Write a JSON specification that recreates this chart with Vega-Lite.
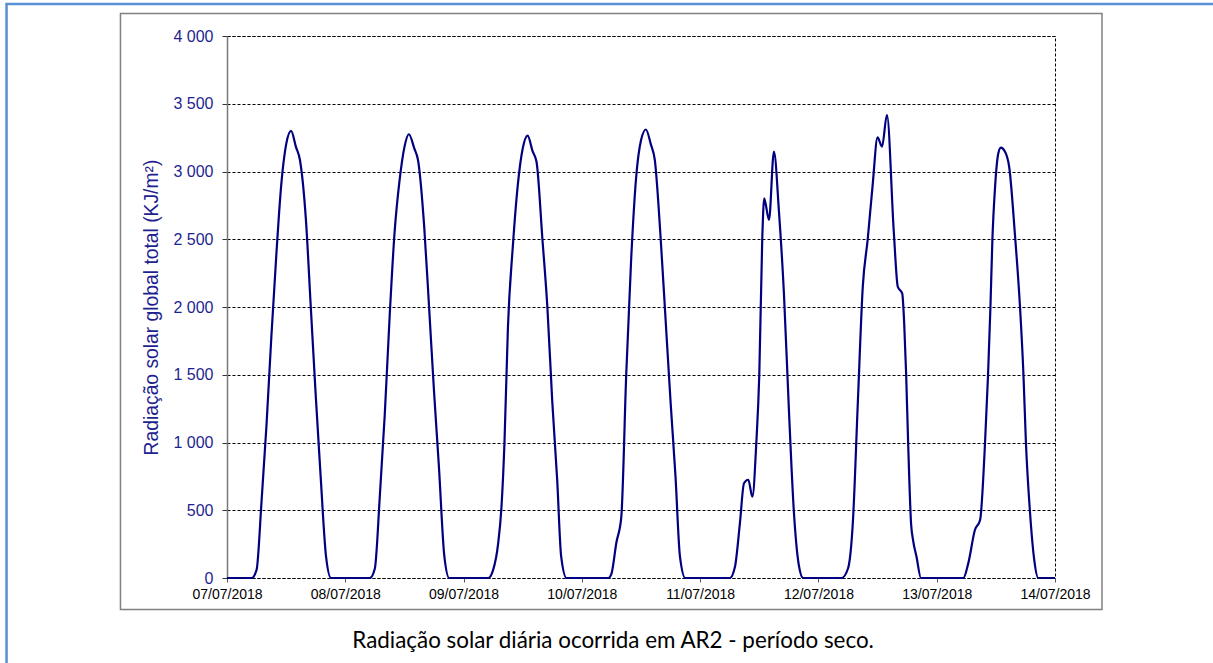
{
  "$schema": "https://vega.github.io/schema/vega-lite/v6.json",
  "width": 828,
  "height": 542,
  "autosize": {"type": "none"},
  "padding": {"left": 227, "top": 36, "right": 158, "bottom": 85},
  "background": "white",
  "config": {"view": {"stroke": "#000000", "strokeDash": [3, 2], "strokeWidth": 1}},
  "data": {
    "values": [
      {"t": "2018-07-07T00:00", "v": 0},
      {"t": "2018-07-07T05:00", "v": 0},
      {"t": "2018-07-07T06:00", "v": 60},
      {"t": "2018-07-07T07:00", "v": 560},
      {"t": "2018-07-07T08:00", "v": 1120},
      {"t": "2018-07-07T09:00", "v": 1780},
      {"t": "2018-07-07T10:00", "v": 2380},
      {"t": "2018-07-07T11:00", "v": 2900},
      {"t": "2018-07-07T12:00", "v": 3200},
      {"t": "2018-07-07T13:00", "v": 3300},
      {"t": "2018-07-07T14:00", "v": 3180},
      {"t": "2018-07-07T14:48", "v": 3085},
      {"t": "2018-07-07T16:00", "v": 2650},
      {"t": "2018-07-07T17:00", "v": 2000},
      {"t": "2018-07-07T18:00", "v": 1350},
      {"t": "2018-07-07T19:00", "v": 750},
      {"t": "2018-07-07T20:06", "v": 157},
      {"t": "2018-07-07T21:06", "v": 0},

      {"t": "2018-07-08T05:00", "v": 0},
      {"t": "2018-07-08T06:00", "v": 70},
      {"t": "2018-07-08T07:00", "v": 600},
      {"t": "2018-07-08T08:00", "v": 1200},
      {"t": "2018-07-08T09:00", "v": 1930},
      {"t": "2018-07-08T10:00", "v": 2550},
      {"t": "2018-07-08T11:00", "v": 2930},
      {"t": "2018-07-08T12:00", "v": 3180},
      {"t": "2018-07-08T12:54", "v": 3275},
      {"t": "2018-07-08T14:00", "v": 3170},
      {"t": "2018-07-08T14:48", "v": 3075},
      {"t": "2018-07-08T16:00", "v": 2600},
      {"t": "2018-07-08T17:00", "v": 2000},
      {"t": "2018-07-08T18:00", "v": 1380},
      {"t": "2018-07-08T19:00", "v": 820},
      {"t": "2018-07-08T20:06", "v": 160},
      {"t": "2018-07-08T21:06", "v": 0},

      {"t": "2018-07-09T05:00", "v": 0},
      {"t": "2018-07-09T06:00", "v": 60},
      {"t": "2018-07-09T07:00", "v": 250},
      {"t": "2018-07-09T07:42", "v": 530},
      {"t": "2018-07-09T08:18", "v": 1000},
      {"t": "2018-07-09T09:00", "v": 1850},
      {"t": "2018-07-09T10:00", "v": 2450},
      {"t": "2018-07-09T11:00", "v": 2900},
      {"t": "2018-07-09T12:00", "v": 3170},
      {"t": "2018-07-09T13:00", "v": 3265},
      {"t": "2018-07-09T14:00", "v": 3150},
      {"t": "2018-07-09T14:48", "v": 3072},
      {"t": "2018-07-09T16:00", "v": 2500},
      {"t": "2018-07-09T17:00", "v": 2000},
      {"t": "2018-07-09T18:00", "v": 1300},
      {"t": "2018-07-09T19:00", "v": 720},
      {"t": "2018-07-09T19:48", "v": 160},
      {"t": "2018-07-09T20:54", "v": 0},

      {"t": "2018-07-10T05:24", "v": 0},
      {"t": "2018-07-10T06:00", "v": 30},
      {"t": "2018-07-10T07:00", "v": 260},
      {"t": "2018-07-10T08:00", "v": 450},
      {"t": "2018-07-10T09:00", "v": 1500},
      {"t": "2018-07-10T10:00", "v": 2350},
      {"t": "2018-07-10T11:00", "v": 2950},
      {"t": "2018-07-10T12:00", "v": 3230},
      {"t": "2018-07-10T13:00", "v": 3310},
      {"t": "2018-07-10T14:00", "v": 3200},
      {"t": "2018-07-10T14:48", "v": 3085},
      {"t": "2018-07-10T16:00", "v": 2500},
      {"t": "2018-07-10T17:00", "v": 1900},
      {"t": "2018-07-10T18:00", "v": 1300},
      {"t": "2018-07-10T19:00", "v": 750},
      {"t": "2018-07-10T19:54", "v": 160},
      {"t": "2018-07-10T21:00", "v": 0},

      {"t": "2018-07-11T06:03", "v": 0},
      {"t": "2018-07-11T07:04", "v": 83},
      {"t": "2018-07-11T08:04", "v": 404},
      {"t": "2018-07-11T08:54", "v": 699},
      {"t": "2018-07-11T09:46", "v": 725},
      {"t": "2018-07-11T10:36", "v": 600},
      {"t": "2018-07-11T11:24", "v": 1000},
      {"t": "2018-07-11T12:00", "v": 1500},
      {"t": "2018-07-11T12:36", "v": 2500},
      {"t": "2018-07-11T13:00", "v": 2802},
      {"t": "2018-07-11T13:58", "v": 2642},
      {"t": "2018-07-11T14:58", "v": 3146},
      {"t": "2018-07-11T16:00", "v": 2700},
      {"t": "2018-07-11T17:00", "v": 2100},
      {"t": "2018-07-11T18:00", "v": 1250},
      {"t": "2018-07-11T19:00", "v": 500},
      {"t": "2018-07-11T20:00", "v": 100},
      {"t": "2018-07-11T20:54", "v": 0},

      {"t": "2018-07-12T04:42", "v": 0},
      {"t": "2018-07-12T06:00", "v": 70},
      {"t": "2018-07-12T07:00", "v": 420},
      {"t": "2018-07-12T08:00", "v": 1300},
      {"t": "2018-07-12T09:00", "v": 2150},
      {"t": "2018-07-12T10:00", "v": 2500},
      {"t": "2018-07-12T11:00", "v": 2900},
      {"t": "2018-07-12T12:00", "v": 3252},
      {"t": "2018-07-12T12:54", "v": 3183},
      {"t": "2018-07-12T13:54", "v": 3417},
      {"t": "2018-07-12T15:18", "v": 2550},
      {"t": "2018-07-12T16:06", "v": 2150},
      {"t": "2018-07-12T17:00", "v": 2100},
      {"t": "2018-07-12T17:24", "v": 1880},
      {"t": "2018-07-12T17:48", "v": 1500},
      {"t": "2018-07-12T18:12", "v": 1000},
      {"t": "2018-07-12T18:48", "v": 400},
      {"t": "2018-07-12T19:12", "v": 280},
      {"t": "2018-07-12T19:54", "v": 157},
      {"t": "2018-07-12T20:48", "v": 0},

      {"t": "2018-07-13T05:24", "v": 0},
      {"t": "2018-07-13T06:24", "v": 108},
      {"t": "2018-07-13T07:45", "v": 354},
      {"t": "2018-07-13T08:48", "v": 428},
      {"t": "2018-07-13T09:48", "v": 994},
      {"t": "2018-07-13T10:24", "v": 1486},
      {"t": "2018-07-13T10:54", "v": 2000},
      {"t": "2018-07-13T11:18", "v": 2500},
      {"t": "2018-07-13T11:48", "v": 2863},
      {"t": "2018-07-13T12:30", "v": 3134},
      {"t": "2018-07-13T13:00", "v": 3176},
      {"t": "2018-07-13T13:48", "v": 3150},
      {"t": "2018-07-13T14:42", "v": 3035},
      {"t": "2018-07-13T15:54", "v": 2520},
      {"t": "2018-07-13T16:54", "v": 2000},
      {"t": "2018-07-13T17:36", "v": 1500},
      {"t": "2018-07-13T18:06", "v": 1000},
      {"t": "2018-07-13T18:54", "v": 500},
      {"t": "2018-07-13T19:48", "v": 130},
      {"t": "2018-07-13T20:36", "v": 0},
      {"t": "2018-07-14T00:00", "v": 0}
    ]
  },
  "layer": [
    {
      "mark": {
        "type": "line",
        "interpolate": "monotone",
        "color": "#000080",
        "strokeWidth": 2.2
      },
      "encoding": {
        "x": {
          "field": "t",
          "type": "temporal",
          "scale": {
            "domain": [
              {"year": 2018, "month": 7, "date": 7},
              {"year": 2018, "month": 7, "date": 14}
            ],
            "nice": false
          },
          "axis": {
            "title": null,
            "values": [
              {"year": 2018, "month": 7, "date": 7},
              {"year": 2018, "month": 7, "date": 8},
              {"year": 2018, "month": 7, "date": 9},
              {"year": 2018, "month": 7, "date": 10},
              {"year": 2018, "month": 7, "date": 11},
              {"year": 2018, "month": 7, "date": 12},
              {"year": 2018, "month": 7, "date": 13},
              {"year": 2018, "month": 7, "date": 14}
            ],
            "format": "%d/%m/%Y",
            "labelFont": "Liberation Sans",
            "labelFontSize": 14,
            "labelColor": "#000000",
            "labelFlush": false,
            "labelOverlap": false,
            "domain": false,
            "grid": false,
            "tickColor": "#555555",
            "tickSize": 4,
            "labelPadding": 5
          }
        },
        "y": {
          "field": "v",
          "type": "quantitative",
          "scale": {"domain": [0, 4000], "nice": false},
          "axis": {
            "title": "Radiação solar global total (KJ/m²)",
            "values": [0, 500, 1000, 1500, 2000, 2500, 3000, 3500, 4000],
            "labelExpr": "replace(format(datum.value, ','), ',', ' ')",
            "labelFont": "Liberation Sans",
            "labelFontSize": 16,
            "labelColor": "#1f1f8f",
            "titleFont": "Liberation Sans",
            "titleFontSize": 19.3,
            "titleFontWeight": "normal",
            "titleColor": "#1f1f8f",
            "titlePadding": 11,
            "domainColor": "#777777",
            "domainWidth": 1.5,
            "tickColor": "#333333",
            "tickSize": 5,
            "labelPadding": 9,
            "grid": true,
            "gridColor": "#000000",
            "gridDash": [3, 2],
            "gridWidth": 1
          }
        }
      }
    },
    {
      "data": {"values": [{}]},
      "mark": {"type": "rect", "fillOpacity": 0, "stroke": "#808080", "strokeWidth": 1.5},
      "encoding": {
        "x": {"datum": {"year": 2018, "month": 7, "date": 6, "hours": 2, "minutes": 23}, "type": "temporal"},
        "x2": {"datum": {"year": 2018, "month": 7, "date": 14, "hours": 9, "minutes": 32}},
        "y": {"datum": 4166, "type": "quantitative"},
        "y2": {"datum": -232}
      }
    },
    {
      "data": {"values": [{}]},
      "mark": {"type": "rect", "fillOpacity": 0, "stroke": "#5a8fd6", "strokeWidth": 2.5},
      "encoding": {
        "x": {"datum": {"year": 2018, "month": 7, "date": 5, "hours": 3, "minutes": 16}, "type": "temporal"},
        "x2": {"datum": {"year": 2018, "month": 7, "date": 15, "hours": 11, "minutes": 30}},
        "y": {"datum": 4237, "type": "quantitative"},
        "y2": {"datum": -753}
      }
    },
    {
      "data": {"values": [{}]},
      "mark": {
        "type": "text",
        "text": "Radiação solar diária ocorrida em AR2 - período seco.",
        "font": "Lato",
        "fontSize": 22.4,
        "color": "#000000",
        "align": "center",
        "baseline": "middle"
      },
      "encoding": {
        "x": {"datum": {"year": 2018, "month": 7, "date": 10, "hours": 6, "minutes": 20}, "type": "temporal"},
        "y": {"datum": -465, "type": "quantitative"}
      }
    }
  ]
}
